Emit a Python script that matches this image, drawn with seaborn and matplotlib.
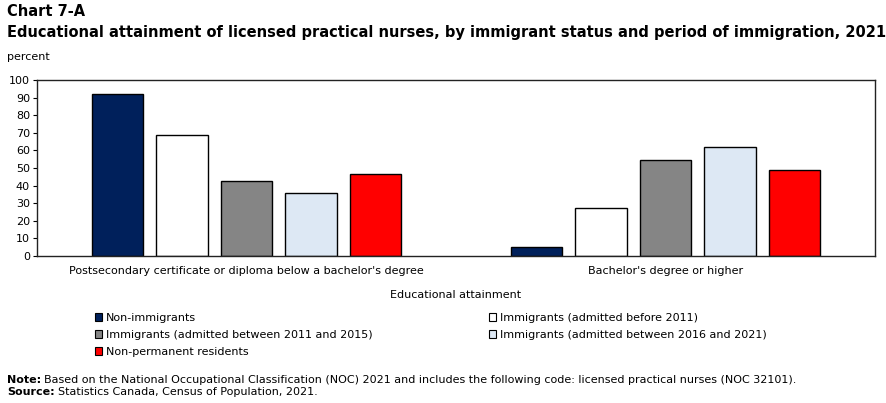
import matplotlib
matplotlib.use("Agg")
import matplotlib.pyplot as plt
from matplotlib.patches import Patch
import seaborn as sns
import pandas as pd

categories = ["Postsecondary certificate or diploma below a bachelor's degree",
              "Bachelor's degree or higher"]
groups = ["Non-immigrants",
          "Immigrants (admitted before 2011)",
          "Immigrants (admitted between 2011 and 2015)",
          "Immigrants (admitted between 2016 and 2021)",
          "Non-permanent residents"]
values = {
    "Non-immigrants": [92.0, 5.0],
    "Immigrants (admitted before 2011)": [68.6, 27.1],
    "Immigrants (admitted between 2011 and 2015)": [42.4, 54.4],
    "Immigrants (admitted between 2016 and 2021)": [36.0, 61.7],
    "Non-permanent residents": [46.8, 48.9],
}
colors = ["#00205b", "#ffffff", "#858585", "#dde8f4", "#ff0000"]
yticks = list(range(0, 101, 10))

rows = []
for g in groups:
    for c, v in zip(categories, values[g]):
        rows.append({"cat": c, "group": g, "value": v})
df = pd.DataFrame(rows)

sns.set_style("white")
plt.rcParams["font.family"] = ["DejaVu Sans"]
for k in ("text.color", "axes.labelcolor", "xtick.color", "ytick.color"):
    plt.rcParams[k] = "black"
W, H = 886, 403
fig = plt.figure(figsize=(W / 100, H / 100), dpi=100)
ax = fig.add_axes([37 / W, (H - 256) / H, 838 / W, 176 / H])

sns.barplot(data=df, x="cat", y="value", hue="group", order=categories,
            hue_order=groups, palette=colors, edgecolor="black", linewidth=1,
            width=0.77, gap=0.2, legend=False, ax=ax, saturation=1)

ax.set_xlim(-0.5, 1.5)
ax.set_ylim(0, 100)
ax.set_yticks(yticks)
ax.tick_params(axis="y", which="both", left=True, length=3, width=0.8,
               labelsize=8, pad=2, color="black")
ax.tick_params(axis="x", length=0, labelsize=8, pad=7)
for s in ax.spines.values():
    s.set_color("#222")
    s.set_linewidth(1)
    s.set_visible(True)
ax.set_ylabel("")
ax.set_xlabel("Educational attainment", fontsize=8, labelpad=10)

fig.text(7 / W, 1 - 12 / H, "Chart 7-A", fontsize=10.5, fontweight="bold",
         va="center", ha="left")
fig.text(7 / W, 1 - 33 / H,
         "Educational attainment of licensed practical nurses, by immigrant status and period of immigration, 2021",
         fontsize=10.5, fontweight="bold", va="center", ha="left")
fig.text(7 / W, 1 - 57 / H, "percent", fontsize=8, va="center", ha="left")

handles = [Patch(facecolor=c, edgecolor="black", linewidth=0.8) for c in colors]
leg_kw = dict(frameon=False, fontsize=8, handlelength=0.65, handleheight=0.65,
              handletextpad=0.3, labelspacing=0.62, borderaxespad=0, borderpad=0,
              loc="upper left")
l1 = fig.legend([handles[i] for i in (0, 2, 4)], [groups[i] for i in (0, 2, 4)],
                bbox_to_anchor=(95 / W, 1 - 313 / H), **leg_kw)
l2 = fig.legend([handles[i] for i in (1, 3)], [groups[i] for i in (1, 3)],
                bbox_to_anchor=(489 / W, 1 - 313 / H), **leg_kw)

fig.canvas.draw()
r = fig.canvas.get_renderer()

def bold_then(y, b, rest):
    t = fig.text(7 / W, 1 - y / H, b, fontsize=8, fontweight="bold", va="center", ha="left")
    bb = t.get_window_extent(r)
    fig.text((bb.x1 + 3) / W, 1 - y / H, rest, fontsize=8, va="center", ha="left")

bold_then(380, "Note:", "Based on the National Occupational Classification (NOC) 2021 and includes the following code: licensed practical nurses (NOC 32101).")
bold_then(392, "Source:", "Statistics Canada, Census of Population, 2021.")

fig.savefig("out.png", dpi=100)
